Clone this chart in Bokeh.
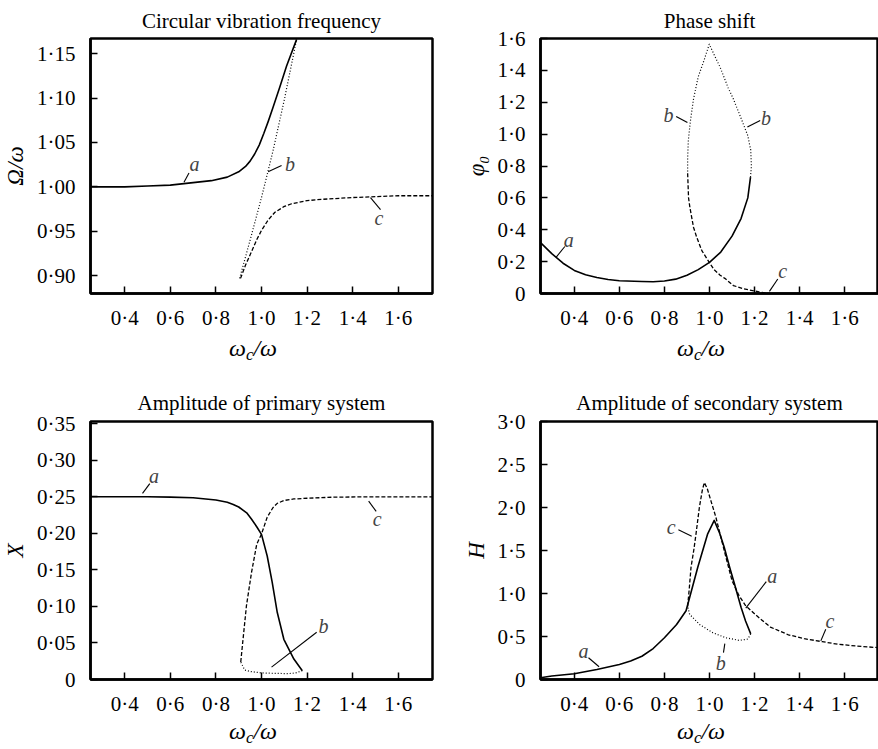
from bokeh.plotting import figure
from bokeh.layouts import column, row
from bokeh.models import Range1d, FixedTicker, CustomJSTickFormatter, Label, Div
from bokeh.embed import file_html
from bokeh.resources import INLINE

# ---------------- data ----------------
x_ticks = [0.4, 0.6, 0.8, 1.0, 1.2, 1.4, 1.6]

# Panel 1: circular vibration frequency  (Omega/omega)
freq_a_x = [0.25, 0.40, 0.50, 0.60, 0.69, 0.78, 0.85, 0.90, 0.93, 0.95, 0.97, 0.99, 1.01, 1.03, 1.05, 1.08, 1.11, 1.154]
freq_a_y = [1.000, 1.000, 1.001, 1.002, 1.0045, 1.007, 1.011, 1.017, 1.023, 1.029, 1.037, 1.047, 1.060, 1.074, 1.089, 1.112, 1.136, 1.166]
freq_b_x = [0.904, 0.95, 1.00, 1.05, 1.10, 1.154]
freq_b_y = [0.897, 0.940, 0.988, 1.040, 1.098, 1.166]
freq_c_x = [0.908, 0.93, 0.956, 0.98, 1.00, 1.03, 1.059, 1.10, 1.132, 1.20, 1.265, 1.40, 1.50, 1.60, 1.75]
freq_c_y = [0.897, 0.912, 0.927, 0.941, 0.951, 0.963, 0.9715, 0.978, 0.981, 0.9845, 0.986, 0.988, 0.989, 0.990, 0.990]
freq_yticks = [0.90, 0.95, 1.00, 1.05, 1.10, 1.15]

# Panel 2: phase shift (phi_0)
phase_a_x = [0.25, 0.30, 0.35, 0.40, 0.45, 0.50, 0.55, 0.60, 0.70, 0.75, 0.80, 0.85, 0.90, 0.95, 1.00, 1.05, 1.10, 1.14, 1.17, 1.182]
phase_a_y = [0.32, 0.25, 0.19, 0.145, 0.118, 0.100, 0.088, 0.080, 0.075, 0.074, 0.078, 0.090, 0.115, 0.150, 0.195, 0.260, 0.360, 0.470, 0.600, 0.730]
phase_b_x = [1.182, 1.186, 1.183, 1.17, 1.14, 1.106, 1.083, 1.047, 1.02, 0.999, 0.975, 0.950, 0.929, 0.915, 0.906, 0.903, 0.903]
phase_b_y = [0.73, 0.80, 0.90, 0.99, 1.10, 1.22, 1.29, 1.42, 1.50, 1.564, 1.46, 1.36, 1.22, 1.08, 0.96, 0.85, 0.754]
phase_c_x = [0.903, 0.907, 0.913, 0.929, 0.943, 0.966, 0.994, 1.02, 1.047, 1.068, 1.106, 1.15, 1.185, 1.22, 1.26]
phase_c_y = [0.754, 0.60, 0.54, 0.416, 0.354, 0.269, 0.206, 0.150, 0.115, 0.095, 0.050, 0.030, 0.020, 0.010, 0.0]
phase_yticks = [0.0, 0.2, 0.4, 0.6, 0.8, 1.0, 1.2, 1.4, 1.6]

# Panel 3: amplitude of primary system (X)
prim_a_x = [0.25, 0.40, 0.50, 0.60, 0.70, 0.80, 0.85, 0.876, 0.90, 0.935, 0.955, 0.979, 1.00, 1.025, 1.047, 1.069, 1.098, 1.142, 1.179]
prim_a_y = [0.250, 0.250, 0.250, 0.2495, 0.2486, 0.2455, 0.2425, 0.2395, 0.236, 0.228, 0.220, 0.209, 0.1986, 0.169, 0.133, 0.092, 0.055, 0.028, 0.012]
prim_b_x = [1.179, 1.15, 1.118, 1.05, 1.00, 0.95, 0.926, 0.909]
prim_b_y = [0.012, 0.009, 0.008, 0.0085, 0.009, 0.011, 0.013, 0.024]
prim_c_x = [0.909, 0.919, 0.934, 0.956, 0.979, 1.00, 1.025, 1.05, 1.069, 1.10, 1.142, 1.20, 1.318, 1.50, 1.75]
prim_c_y = [0.024, 0.055, 0.101, 0.146, 0.185, 0.199, 0.222, 0.235, 0.241, 0.245, 0.247, 0.248, 0.2495, 0.250, 0.250]
prim_yticks = [0.0, 0.05, 0.10, 0.15, 0.20, 0.25, 0.30, 0.35]

# Panel 4: amplitude of secondary system (H)
sec_a_x = [0.25, 0.30, 0.40, 0.50, 0.60, 0.65, 0.70, 0.75, 0.80, 0.854, 0.896, 0.948, 0.992, 1.021, 1.045, 1.065, 1.09, 1.11, 1.14, 1.16, 1.183]
sec_a_y = [0.02, 0.04, 0.066, 0.116, 0.175, 0.215, 0.27, 0.36, 0.485, 0.64, 0.80, 1.305, 1.694, 1.85, 1.70, 1.54, 1.30, 1.12, 0.84, 0.68, 0.53]
sec_b_x = [1.183, 1.17, 1.132, 1.073, 1.015, 0.956, 0.912, 0.903]
sec_b_y = [0.53, 0.47, 0.455, 0.485, 0.543, 0.64, 0.757, 0.85]
sec_c_x = [0.903, 0.91, 0.918, 0.93, 0.940, 0.955, 0.968, 0.977, 0.99, 1.006, 1.028, 1.05, 1.075, 1.10, 1.13, 1.16, 1.21, 1.27, 1.35, 1.42, 1.50, 1.57, 1.65, 1.75]
sec_c_y = [0.85, 1.05, 1.305, 1.50, 1.69, 2.00, 2.20, 2.29, 2.22, 2.08, 1.89, 1.66, 1.40, 1.15, 0.98, 0.86, 0.74, 0.61, 0.52, 0.475, 0.44, 0.41, 0.39, 0.37]
sec_yticks = [0.0, 0.5, 1.0, 1.5, 2.0, 2.5, 3.0]

# ---------------- styling / layout ----------------
SERIF = "Liberation Serif"
STYLES = {
    "a": dict(line_width=1.6, line_dash="solid"),
    "b": dict(line_width=1.2, line_dash="1 2"),
    "c": dict(line_width=1.3, line_dash="4 2"),
}

# curve-letter annotations: (letter, text x, text y, leader x0, y0, x1, y1)
freq_notes = [("a", 0.706, 1.0253, 0.660, 1.0053, 0.682, 1.0155),
              ("b", 1.125, 1.0253, 1.029, 1.017, 1.088, 1.024),
              ("c", 1.515, 0.965, 1.478, 0.988, 1.522, 0.9745)]
phase_notes = [("a", 0.375, 0.333, 0.319, 0.227, 0.358, 0.295),
               ("b", 0.818, 1.122, 0.852, 1.111, 0.902, 1.073),
               ("b", 1.251, 1.101, 1.168, 1.044, 1.225, 1.086),
               ("c", 1.325, 0.143, 1.266, 0.013, 1.303, 0.091)]
prim_notes = [("a", 0.529, 0.279, 0.478, 0.2546, 0.510, 0.268),
              ("c", 1.507, 0.219, 1.470, 0.244, 1.503, 0.230),
              ("b", 1.272, 0.0736, 1.044, 0.0169, 1.242, 0.0646)]
sec_notes = [("a", 0.441, 0.332, 0.463, 0.253, 0.510, 0.148),
             ("c", 0.830, 1.772, 0.862, 1.741, 0.921, 1.667),
             ("a", 1.278, 1.208, 1.252, 1.138, 1.161, 0.829),
             ("c", 1.535, 0.682, 1.516, 0.584, 1.494, 0.449),
             ("b", 1.050, 0.195, 1.068, 0.417, 1.062, 0.312)]


def make_panel(title, ylabel, y0, y1, yticks, ydec, series, notes,
               border_left, border_right, border_top, border_bottom,
               frame_w, frame_h, title_standoff):
    p = figure(output_backend="svg", toolbar_location=None,
               frame_width=frame_w, frame_height=frame_h,
               min_border_left=border_left, min_border_right=border_right,
               min_border_top=border_top, min_border_bottom=border_bottom,
               x_range=Range1d(0.25, 1.75), y_range=Range1d(y0, y1),
               title=title)
    p.title.text_font = SERIF
    p.title.text_font_size = "21px"
    p.title.text_font_style = "normal"
    p.title.text_color = "black"
    p.title.align = "center"
    p.title.standoff = title_standoff
    p.grid.visible = False
    p.outline_line_color = "black"
    p.outline_line_width = 2.5
    p.outline_line_alpha = 1
    p.background_fill_color = "white"
    p.border_fill_color = "white"

    for ax in (p.xaxis[0], p.yaxis[0]):
        ax.axis_line_width = 2.5
        ax.axis_line_color = "black"
        ax.major_tick_in = 7
        ax.major_tick_out = 0
        ax.major_tick_line_width = 1.5
        ax.minor_tick_line_color = None
        ax.major_label_text_font = SERIF
        ax.major_label_text_font_size = "21px"
        ax.major_label_text_color = "black"

    p.xaxis.ticker = FixedTicker(ticks=x_ticks)
    p.xaxis.formatter = CustomJSTickFormatter(
        code='return tick.toFixed(1).replace(".", "\u00b7");')
    p.xaxis.major_label_standoff = 12

    p.yaxis.ticker = FixedTicker(ticks=yticks)
    p.yaxis.formatter = CustomJSTickFormatter(
        args=dict(d=ydec),
        code='return Math.abs(tick) < 1e-9 ? "0" : tick.toFixed(d).replace(".", "\u00b7");')
    p.yaxis.major_label_standoff = 15
    p.yaxis.axis_label = ylabel
    p.yaxis.axis_label_text_font = SERIF
    p.yaxis.axis_label_text_font_size = "23px"
    p.yaxis.axis_label_text_font_style = "italic"
    p.yaxis.axis_label_text_color = "black"
    p.yaxis.axis_label_standoff = 6

    for key, xs, ys in series:
        p.line(xs, ys, color="black", line_join="round", **STYLES[key])

    for letter, tx, ty, lx0, ly0, lx1, ly1 in notes:
        p.segment(x0=[lx0], y0=[ly0], x1=[lx1], y1=[ly1], color="black", line_width=1.1)
        p.add_layout(Label(x=tx, y=ty, text=letter, text_font=SERIF,
                           text_font_size="20px", text_font_style="italic",
                           text_align="center", text_baseline="middle"))
    return p


def xlabel_div(frame_w, left, right, height, line_h):
    return Div(text='<i>ω<sub style="font-size:0.7em;vertical-align:-0.25em;line-height:0">c</sub>/ω</i>',
               width=frame_w, height=height,
               margin=(0, right, 0, left),
               styles={"font-family": SERIF, "font-size": "24px",
                       "text-align": "center", "line-height": f"{line_h}px",
                       "color": "black"})


L1, R1, FW1 = 82, 8, 342     # left panels
L2, R2, FW2 = 100, 0, 338    # right panels

p1 = make_panel("Circular vibration frequency", "Ω/ω", 0.88, 1.167, freq_yticks, 2,
                [("a", freq_a_x, freq_a_y), ("b", freq_b_x, freq_b_y), ("c", freq_c_x, freq_c_y)],
                freq_notes, L1, R1, 38, 42, FW1, 255, 12)
p2 = make_panel("Phase shift", "φ₀", 0.0, 1.6, phase_yticks, 1,
                [("a", phase_a_x, phase_a_y), ("b", phase_b_x, phase_b_y), ("c", phase_c_x, phase_c_y)],
                phase_notes, L2, R2, 38, 42, FW2, 255, 12)
p3 = make_panel("Amplitude of primary system", "X", 0.0, 0.353, prim_yticks, 2,
                [("a", prim_a_x, prim_a_y), ("b", prim_b_x, prim_b_y), ("c", prim_c_x, prim_c_y)],
                prim_notes, L1, R1, 46, 40, FW1, 258, 14)
p4 = make_panel("Amplitude of secondary system", "H", 0.0, 3.0, sec_yticks, 1,
                [("a", sec_a_x, sec_a_y), ("b", sec_b_x, sec_b_y), ("c", sec_c_x, sec_c_y)],
                sec_notes, L2, R2, 46, 40, FW2, 258, 14)

d1 = xlabel_div(FW1, L1, R1, 40, 26)
d2 = xlabel_div(FW2, L2, R2, 40, 26)
d3 = xlabel_div(FW1, L1, R1, 28, 24)
d4 = xlabel_div(FW2, L2, R2, 28, 24)

layout = column(row(p1, p2), row(d1, d2), row(p3, p4), row(d3, d4))
open("out.html", "w").write(file_html(layout, INLINE))
